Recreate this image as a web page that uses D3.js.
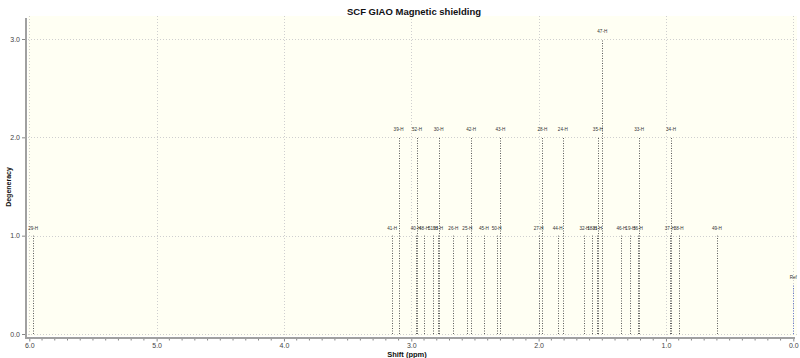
<!DOCTYPE html>
<html>
<head>
<meta charset="utf-8">
<script src="https://cdn.jsdelivr.net/npm/d3@7"></script>
<style>
  html, body { margin: 0; padding: 0; background: #ffffff; }
  svg { display: block; font-family: "Liberation Sans", Arial, sans-serif; }
</style>
</head>
<body>
<svg id="chart" width="800" height="358"></svg>
<script>
// ---- data ----
const peakLabels = ["29-H","41-H","39-H","40-H","52-H","48-H","51-H","53-H","30-H","26-H","25-H","42-H","45-H","50-H","43-H","27-H","28-H","44-H","24-H","32-H","18-H","31-H","35-H","47-H","46-H","19-H","36-H","33-H","37-H","34-H","38-H","49-H","Ref"];
const peakShifts = [5.97,3.15,3.10,2.965,2.955,2.90,2.83,2.79,2.785,2.67,2.56,2.53,2.43,2.33,2.30,2.00,1.97,1.85,1.81,1.64,1.58,1.54,1.535,1.50,1.35,1.28,1.22,1.21,0.97,0.96,0.90,0.60,0.00];
const peakDegeneracy = [1,1,2,1,2,1,1,1,2,1,1,2,1,1,2,1,2,1,2,1,1,1,2,3,1,1,1,2,1,2,1,1,0.5];
const xTicks = [6,5,4,3,2,1,0];
const xTickLabels = ["6.0","5.0","4.0","3.0","2.0","1.0","0.0"];
const yTicks = [0,1,2,3];
const yTickLabels = ["0.0","1.0","2.0","3.0"];
const titleText = "SCF GIAO Magnetic shielding";
const xTitle = "Shift (ppm)";
const yTitle = "Degeneracy";

const peaks = peakLabels.map((l, i) => ({label: l, shift: peakShifts[i], deg: peakDegeneracy[i]}));

const svg = d3.select("#chart");
const x = d3.scaleLinear().domain([6, 0]).range([29.3, 793.3]);
const y = d3.scaleLinear().domain([0, 3]).range([334, 39]);

// plot background
svg.append("rect").attr("x", 28).attr("y", 16).attr("width", 769).attr("height", 320)
  .attr("fill", "#fffff3");

// grid
const grid = svg.append("g").attr("stroke", "#cfcfcf").attr("stroke-width", 1)
  .attr("stroke-dasharray", "1,2");
grid.selectAll("line.vg").data(xTicks).join("line").attr("class", "vg")
  .attr("x1", d => Math.round(x(d)) + 0.5).attr("x2", d => Math.round(x(d)) + 0.5)
  .attr("y1", 16).attr("y2", 336);
grid.selectAll("line.hg").data(yTicks).join("line").attr("class", "hg")
  .attr("y1", d => Math.round(y(d)) + 0.5).attr("y2", d => Math.round(y(d)) + 0.5)
  .attr("x1", 28).attr("x2", 797);

// peaks
const pk = svg.append("g");
pk.selectAll("line").data(peaks).join("line")
  .attr("x1", d => Math.round(x(d.shift)) + 0.5).attr("x2", d => Math.round(x(d.shift)) + 0.5)
  .attr("y1", y(0)).attr("y2", d => y(d.deg))
  .attr("stroke", d => d.label === "Ref" ? "#6677cc" : "#5a5a5a")
  .attr("stroke-width", 1).attr("stroke-dasharray", "1,1.5");
pk.selectAll("text").data(peaks).join("text")
  .attr("x", d => x(d.shift)).attr("y", d => y(d.deg) - 6)
  .attr("text-anchor", "middle").attr("font-size", 4.6).attr("fill", "#333")
  .text(d => d.label);

// x axis
const xAxis = d3.axisBottom(x).tickValues(xTicks).tickFormat((d, i) => xTickLabels[i]).tickSize(3.5).tickPadding(1.5);
const gx = svg.append("g").attr("transform", "translate(0,338)").call(xAxis);
gx.select(".domain").remove();
gx.selectAll(".tick line").attr("stroke", "#888");
gx.selectAll(".tick text").attr("font-size", 7).attr("fill", "#444");
const minor = d3.range(0, 60).map(i => i / 10).filter(v => Math.abs(v - Math.round(v)) > 1e-6);
gx.selectAll("line.minor").data(minor).join("line").attr("class", "minor")
  .attr("x1", d => x(d)).attr("x2", d => x(d)).attr("y1", 0).attr("y2", 2.5)
  .attr("stroke", "#888");
svg.append("line").attr("x1", 25).attr("x2", 795).attr("y1", 338).attr("y2", 338)
  .attr("stroke", "#a0a0a0").attr("stroke-width", 2);

// y axis
const yAxis = d3.axisLeft(y).tickValues(yTicks).tickFormat((d, i) => yTickLabels[i]).tickSize(4).tickPadding(2);
const gy = svg.append("g").attr("transform", "translate(26,0)").call(yAxis);
gy.select(".domain").remove();
gy.selectAll(".tick line").attr("stroke", "#888");
gy.selectAll(".tick text").attr("font-size", 7).attr("fill", "#444");
svg.append("line").attr("x1", 26).attr("x2", 26).attr("y1", 18).attr("y2", 339)
  .attr("stroke", "#a0a0a0").attr("stroke-width", 2);

// titles
svg.append("text").attr("x", 414).attr("y", 15).attr("text-anchor", "middle")
  .attr("font-size", 9.5).attr("font-weight", "bold").attr("fill", "#111").text(titleText);
svg.append("text").attr("x", 407).attr("y", 357).attr("text-anchor", "middle")
  .attr("font-size", 7.5).attr("font-weight", "bold").attr("fill", "#111").text(xTitle);
svg.append("text").attr("transform", "translate(11,187) rotate(-90)").attr("text-anchor", "middle")
  .attr("font-size", 7).attr("font-weight", "bold").attr("fill", "#111").text(yTitle);
</script>
</body>
</html>
